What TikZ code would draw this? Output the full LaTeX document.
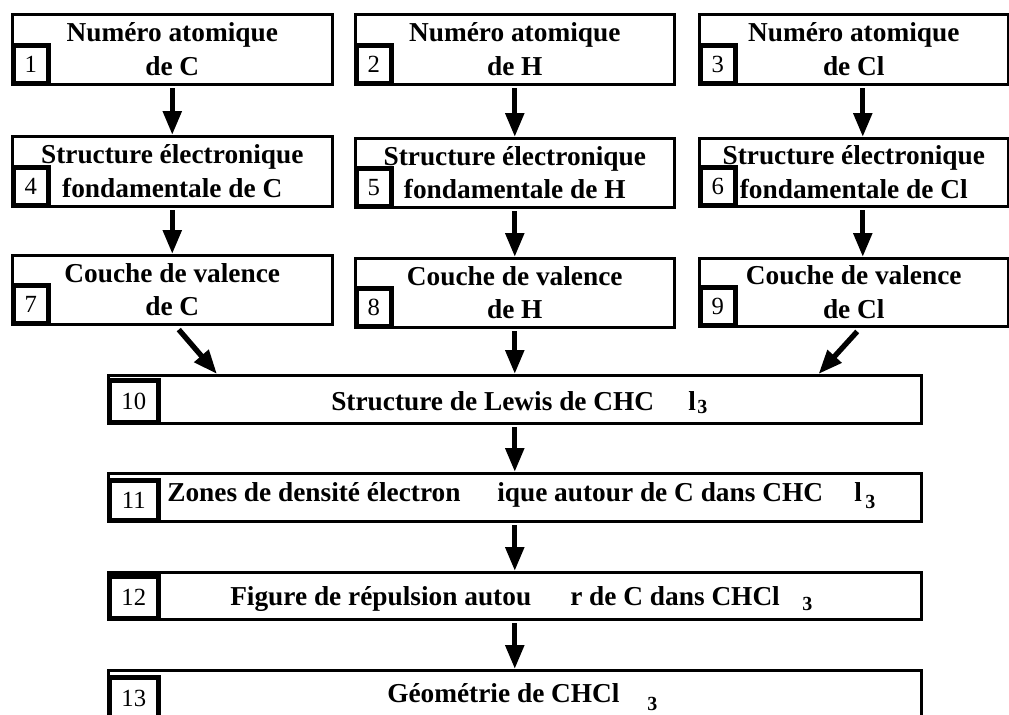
\documentclass[tikz,border=0pt]{standalone}
\usepackage{fontspec}
\setmainfont{Liberation Serif}
\usetikzlibrary{positioning, arrows.meta, calc}

\def\px{0.75pt}
\tikzset{
    box/.style={draw, line width=1.9pt, inner sep=0pt, anchor=north west},
    title/.style={align=center, font=\bfseries\fontsize{20.5}{25}\selectfont},
    numbox/.style={draw, line width=3.4pt, fill=white, inner sep=0pt, anchor=south west,
        font=\fontsize{18.5}{18.5}\selectfont},
    frag/.style={anchor=base west, inner sep=0pt, font=\bfseries\fontsize{20.5}{24}\selectfont},
    sub/.style={anchor=base west, inner sep=0pt, font=\bfseries\fontsize{15}{15}\selectfont},
    flow/.style={line width=4pt, -{Triangle[length=18pt, width=13.5pt]}}
}

\begin{document}
\begin{tikzpicture}[x=\px, y=-\px]
    \useasboundingbox (0,0) rectangle (1009,714);
    \clip (0,0) rectangle (1009,714);

    % three columns: C, H, Cl
    \foreach \n/\x/\y/\w/\h/\txt in {
        1/11/13/320/70/{Numéro atomique\\de C},
        2/354/13/319/70/{Numéro atomique\\de H},
        3/698/13/309/70/{Numéro atomique\\de Cl},
        4/11/135/320/70/{Structure électronique\\fondamentale de C},
        5/354/137/319/69/{Structure électronique\\fondamentale de H},
        6/698/137/309/68/{Structure électronique\\fondamentale de Cl},
        7/11/254/320/69/{Couche de valence\\de C},
        8/354/257/319/69/{Couche de valence\\de H},
        9/698/257/309/68/{Couche de valence\\de Cl}}{

        \node[box, title, minimum width=\w*\px, minimum height=\h*\px]
            (b\n) at (\x,\y) {\txt};
        \node[numbox, minimum width=35*\px, minimum height=38*\px]
            (n\n) at (b\n.south west) {\n};
    }

    % wide boxes
    \foreach \n/\y/\h/\s in {10/374/48/42, 11/472/48/40, 12/571/47/42, 13/669/50/42}{
        \node[box, minimum width=813*\px, minimum height=\h*\px] (b\n) at (107,\y) {};
        \node[numbox, minimum width=49*\px, minimum height=\s*\px]
            (n\n) at (b\n.south west) {\n};
    }

    % texts of the wide boxes
    \foreach \name/\x/\y/\txt in {
        f10a/331/410/{Structure de Lewis de CHC},
        f10b/688/410/{l},
        f11a/167/501/{Zones de densité électron},
        f11b/497/501/{ique autour de C dans CHC},
        f11c/854/501/{l},
        f12a/230/605/{Figure de répulsion autou},
        f12b/570/605/{r de C dans CHCl},
        f13a/387/702/{Géométrie de CHCl}}{
        \node[frag] (\name) at (\x,\y) {\txt};
    }
    \foreach \name/\x/\y in {s10/697/413, s11/865/508, s12/802/610, s13/647/710}{
        \node[sub] (\name) at (\x,\y) {3};
    }

    % arrows
    \foreach \a/\b in {1/4, 4/7, 2/5, 5/8, 10/11, 11/12, 12/13}{
        \draw[flow, shorten <=2pt] (b\a.south) -- (b\b.north);
    }
    \foreach \a/\b in {3/6, 6/9}{
        \draw[flow, shorten <=2pt] ([xshift=9*\px]b\a.south) -- ([xshift=9*\px]b\b.north);
    }
    \draw[flow, shorten <=2pt] (b8.south) -- (b8.south |- b10.north);
    \draw[flow, shorten <=4pt] ([xshift=3*\px]b7.south) -- ([xshift=110*\px]b10.north west);
    \draw[flow, shorten <=4pt] ([xshift=7*\px]b9.south) -- ([xshift=-104*\px]b10.north east);
\end{tikzpicture}
\end{document}
